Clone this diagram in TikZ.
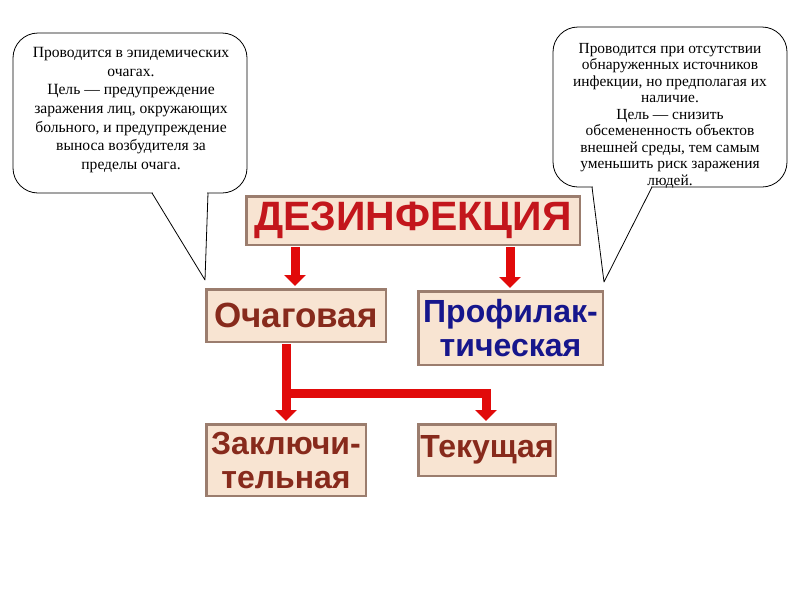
\documentclass[tikz,border=0pt]{standalone}
\usepackage{fontspec}
\setmainfont{Liberation Serif}
\newfontfamily\boxfont{Liberation Sans}
\usetikzlibrary{arrows.meta}
\definecolor{boxfill}{RGB}{248,228,210}
\definecolor{boxline}{RGB}{155,125,110}
\definecolor{arrred}{RGB}{225,10,10}
\definecolor{titred}{RGB}{195,22,28}
\definecolor{brownt}{RGB}{135,42,28}
\definecolor{navyt}{RGB}{22,22,140}
\tikzset{
  catbox/.style={draw=boxline, fill=boxfill, line width=2.5pt, inner sep=0pt,
    align=center, font=\boxfont\bfseries\fontsize{32}{34}\selectfont},
  arr/.style={draw=arrred, line width=9pt, line join=miter,
    -{Triangle[width=21pt,length=11pt]}},
  bubline/.style={draw=black, line width=0.8pt},
  bubtext/.style={inner sep=0pt, align=center, anchor=north},
}
\begin{document}
\begin{tikzpicture}[x=1pt,y=-1pt]
\useasboundingbox (0,0) rectangle (800,600);
\fill[white] (0,0) rectangle (800,600);

% left callout
\draw[bubline, rounded corners=25pt] (13,33) rectangle (247,193);
\fill[white] (152.8,191.5) rectangle (207.2,194.5);
\draw[bubline, line join=round] (152,193) -- (205,280) -- (208,193);
\node[bubtext, font=\fontsize{15.6}{18.7}\selectfont] (ltext) at (131,47)
  {Проводится в эпидемических\\ очагах.\\ Цель — предупреждение\\ заражения лиц, окружающих\\ больного, и предупреждение\\ выноса возбудителя за\\ пределы очага.};

% right callout
\draw[bubline, rounded corners=25pt] (553,27) rectangle (787,187);
\fill[white] (592.8,185.5) rectangle (651.2,188.5);
\draw[bubline, line join=round] (592,187) -- (604,282) -- (652,187);
\node[bubtext, font=\fontsize{15.4}{16.5}\selectfont] (rtext) at (670,43)
  {Проводится при отсутствии\\ обнаруженных источников\\ инфекции, но предполагая их\\ наличие.\\ Цель — снизить\\ обсемененность объектов\\ внешней среды, тем самым\\ уменьшить риск заражения\\ людей.};

% boxes
\node[catbox, minimum width=333.5pt, minimum height=48.5pt, text=titred,
  font=\boxfont\bfseries\fontsize{41}{42}\selectfont] (desinf) at (413,220.5) {ДЕЗИНФЕКЦИЯ};
\node[catbox, minimum width=179.5pt, minimum height=52.5pt, text=brownt,
  font=\boxfont\bfseries\fontsize{35}{36}\selectfont] (ochag) at (296,315.5) {Очаговая};
\node[catbox, minimum width=184.5pt, minimum height=73.5pt, text=navyt] (profil) at (510.5,328) {Профилак-\\тическая};
\node[catbox, minimum width=159.5pt, minimum height=71.5pt, text=brownt] (zakl) at (286,460) {Заключи-\\тельная};
\node[catbox, minimum width=137.5pt, minimum height=51.5pt, text=brownt] (tek) at (487,450) {Текущая};

% connectors
\coordinate (a1) at (295,0);
\coordinate (a2) at (510,0);
\coordinate (c1) at (286,0);
\coordinate (j) at (486,393);
\draw[arr, shorten >=2pt] ([yshift=-1pt]desinf.south -| a1) -- (ochag.north -| a1);
\draw[arr, shorten >=2pt] ([yshift=-1pt]desinf.south -| a2) -- (profil.north -| a2);
\draw[arr, shorten >=2pt] ([yshift=-1pt]ochag.south -| c1) -- (zakl.north -| c1);
\draw[arr, shorten >=2pt] ([yshift=-1pt]ochag.south -| c1) |- (j) -- (tek.north -| j);
\end{tikzpicture}
\end{document}
